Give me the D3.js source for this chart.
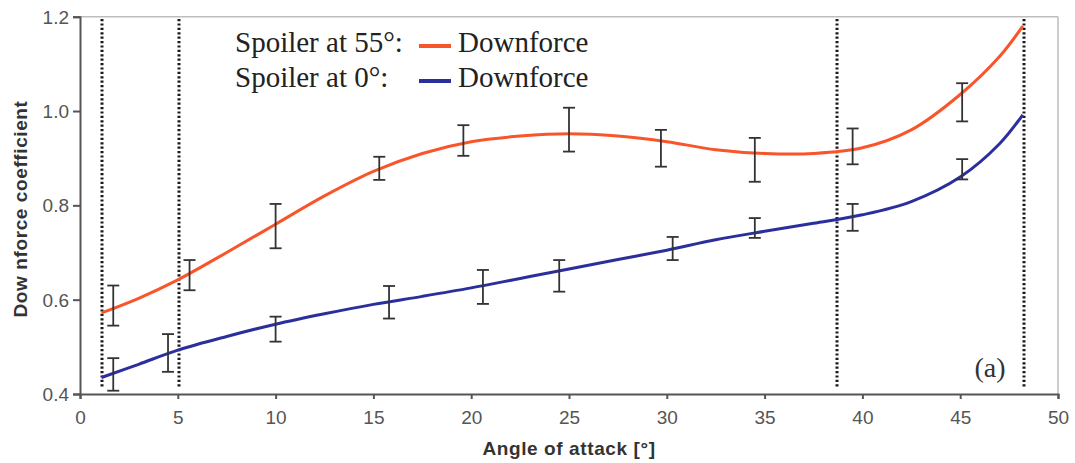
<!DOCTYPE html>
<html>
<head>
<meta charset="utf-8">
<script src="https://cdn.jsdelivr.net/npm/d3@7"></script>
<style>
  html, body { margin: 0; padding: 0; background: #fff; }
  svg { display: block; }
</style>
</head>
<body>
<svg id="chart" width="1075" height="463"></svg>
<script>
// ---- data ----
const xTicks = [0, 5, 10, 15, 20, 25, 30, 35, 40, 45, 50];
const yTicks = [0.4, 0.6, 0.8, 1.0, 1.2];
const yTickLabels = ["0.4", "0.6", "0.8", "1.0", "1.2"];

const curve55X = [1.1, 3, 5, 7.5, 10, 12.5, 15, 17.5, 20, 22.5, 25, 27.5, 30, 32.5, 35, 37.5, 40, 42.5, 45, 47, 48.2];
const curve55Y = [0.572, 0.603, 0.642, 0.700, 0.760, 0.820, 0.872, 0.910, 0.935, 0.947, 0.952, 0.947, 0.935, 0.918, 0.910, 0.910, 0.922, 0.960, 1.035, 1.115, 1.180];

const curve0X = [1.1, 3, 5, 7.5, 10, 12.5, 15, 17.5, 20, 22.5, 25, 27.5, 30, 32.5, 35, 37.5, 40, 42.5, 45, 47, 48.2];
const curve0Y = [0.435, 0.463, 0.493, 0.522, 0.548, 0.570, 0.590, 0.607, 0.625, 0.645, 0.665, 0.685, 0.705, 0.727, 0.745, 0.762, 0.780, 0.808, 0.860, 0.930, 0.992];

const err55X  = [1.7, 5.6, 10.0, 15.3, 19.6, 25.0, 29.7, 34.5, 39.5, 45.1];
const err55Hi = [0.630, 0.684, 0.803, 0.903, 0.970, 1.007, 0.960, 0.943, 0.963, 1.059];
const err55Lo = [0.545, 0.620, 0.709, 0.854, 0.905, 0.914, 0.882, 0.850, 0.887, 0.978];

const err0X  = [1.7, 4.5, 10.0, 15.8, 20.6, 24.5, 30.3, 34.5, 39.5, 45.1];
const err0Hi = [0.476, 0.527, 0.564, 0.629, 0.663, 0.684, 0.733, 0.773, 0.803, 0.898];
const err0Lo = [0.407, 0.447, 0.511, 0.560, 0.591, 0.617, 0.684, 0.731, 0.746, 0.855];

const dottedX = [1.1, 5.05, 38.7, 48.25];

const legendLabels = ["Spoiler at 55°:", "Spoiler at 0°:"];
const seriesName = "Downforce";
const xTitle = "Angle of attack [°]";
const yTitle = "Dow nforce coefficient";
const panelLabel = "(a)";

// ---- layout ----
const W = 1075, H = 463;
const m = { left: 80, right: 17, top: 16.7, bottom: 69 };
const svg = d3.select("#chart");
svg.append("rect").attr("width", W).attr("height", H).attr("fill", "#fff");

const x = d3.scaleLinear().domain([0, 50]).range([m.left, W - m.right]);
const y = d3.scaleLinear().domain([0.4, 1.2]).range([H - m.bottom, m.top]);

const orange = "#f9552b";
const blue = "#2a2f9c";

// frame top & right (light)
svg.append("line").attr("x1", x(0)).attr("x2", x(50)).attr("y1", y(1.2)).attr("y2", y(1.2))
  .attr("stroke", "#bdbdbd").attr("stroke-width", 1.5);
svg.append("line").attr("x1", x(50)).attr("x2", x(50)).attr("y1", y(1.2)).attr("y2", y(0.4))
  .attr("stroke", "#bdbdbd").attr("stroke-width", 1.5);

// axes
const xAxis = d3.axisBottom(x).tickValues(xTicks).tickSize(5).tickPadding(12).tickFormat(d3.format("d"));
const gx = svg.append("g").attr("transform", `translate(0,${y(0.4)})`).call(xAxis);
const yAxis = d3.axisLeft(y).tickValues(yTicks).tickSize(7).tickPadding(4)
  .tickFormat((d, i) => yTickLabels[i]);
const gy = svg.append("g").attr("transform", `translate(${x(0)},0)`).call(yAxis);
[gx, gy].forEach(g => {
  g.select(".domain").attr("stroke", "#555").attr("stroke-width", 2);
  g.selectAll(".tick line").attr("stroke", "#555").attr("stroke-width", 2);
  g.selectAll(".tick text").attr("fill", "#555").attr("font-family", "Arial, 'Liberation Sans', sans-serif")
    .attr("font-size", 19);
});
gy.selectAll(".tick text").attr("dy", "0.34em");

// dotted vertical lines
svg.append("g").selectAll("line").data(dottedX).join("line")
  .attr("x1", d => Math.round(x(d))).attr("x2", d => Math.round(x(d)))
  .attr("y1", 19).attr("y2", 388)
  .attr("stroke", "#1a1a1a").attr("stroke-width", 3)
  .attr("stroke-dasharray", "2.2,2.2");

// curves
const line = d3.line().x(d => x(d[0])).y(d => y(d[1])).curve(d3.curveCatmullRom.alpha(0.5));
svg.append("path").datum(d3.zip(curve0X, curve0Y)).attr("d", line)
  .attr("fill", "none").attr("stroke", blue).attr("stroke-width", 3);
svg.append("path").datum(d3.zip(curve55X, curve55Y)).attr("d", line)
  .attr("fill", "none").attr("stroke", orange).attr("stroke-width", 3);

// error bars
function errBars(xs, his, los) {
  const g = svg.append("g").attr("stroke", "#333").attr("stroke-width", 1.8).attr("fill", "none");
  const data = xs.map((d, i) => ({ x: d, hi: his[i], lo: los[i] }));
  g.selectAll(".v").data(data).join("line")
    .attr("x1", d => x(d.x)).attr("x2", d => x(d.x)).attr("y1", d => y(d.hi)).attr("y2", d => y(d.lo));
  g.selectAll(".t").data(data).join("line")
    .attr("x1", d => x(d.x) - 6).attr("x2", d => x(d.x) + 6).attr("y1", d => y(d.hi)).attr("y2", d => y(d.hi));
  g.selectAll(".b").data(data).join("line")
    .attr("x1", d => x(d.x) - 6).attr("x2", d => x(d.x) + 6).attr("y1", d => y(d.lo)).attr("y2", d => y(d.lo));
}
errBars(err55X, err55Hi, err55Lo);
errBars(err0X, err0Hi, err0Lo);

// legend
const serif = "'Liberation Serif', 'Times New Roman', serif";
const legColors = [orange, blue];
legendLabels.forEach((lab, i) => {
  const by = 52 + i * 35;
  svg.append("text").attr("x", 235).attr("y", by).text(lab)
    .attr("font-family", serif).attr("font-size", 29).attr("fill", "#222");
  svg.append("line").attr("x1", 419).attr("x2", 451).attr("y1", by - 6).attr("y2", by - 6)
    .attr("stroke", legColors[i]).attr("stroke-width", 4);
  svg.append("text").attr("x", 458).attr("y", by).text(seriesName)
    .attr("font-family", serif).attr("font-size", 29).attr("fill", "#222");
});

// panel label
svg.append("text").attr("x", 990).attr("y", 377).attr("text-anchor", "middle").text(panelLabel)
  .attr("font-family", serif).attr("font-size", 28).attr("fill", "#333");

// axis titles
svg.append("text").attr("x", 569).attr("y", 455).attr("text-anchor", "middle").text(xTitle)
  .attr("font-family", "Arial, 'Liberation Sans', sans-serif").attr("font-weight", "bold")
  .attr("font-size", 19).attr("letter-spacing", 0.6).attr("fill", "#333");
svg.append("text").attr("transform", `translate(27,209) rotate(-90)`).attr("text-anchor", "middle").text(yTitle)
  .attr("font-family", "Arial, 'Liberation Sans', sans-serif").attr("font-weight", "bold")
  .attr("font-size", 19).attr("letter-spacing", 0.6).attr("fill", "#333");
</script>
</body>
</html>
